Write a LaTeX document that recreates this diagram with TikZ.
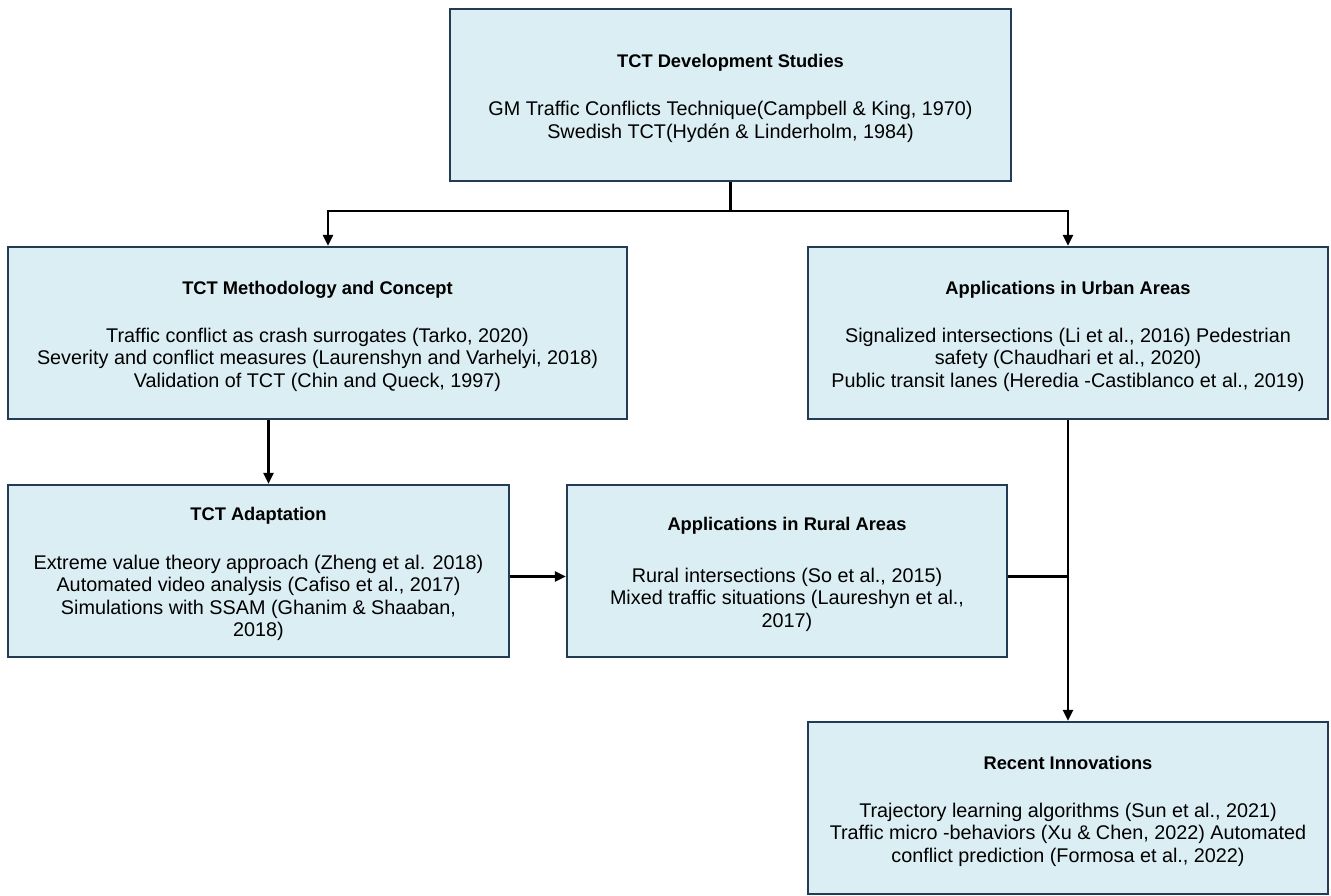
\documentclass[tikz,border=0pt]{standalone}
\usepackage{fontspec}
\setmainfont{Liberation Sans}
\usetikzlibrary{arrows.meta,calc}
\definecolor{boxfill}{HTML}{DBEEF4}
\definecolor{boxline}{HTML}{243B55}
\newcommand{\boxtitle}[1]{{\fontsize{18.3}{22}\selectfont\bfseries\rule{0pt}{20pt}#1}}
\begin{document}
\begin{tikzpicture}[x=1pt,y=-1pt,
  box/.style={draw=boxline, line width=2.2pt, fill=boxfill, align=center,
    font=\fontsize{19.8}{22.5}\selectfont, inner sep=0pt},
  conn/.style={draw=black, line width=2.6pt},
  arr/.style={conn, -{Triangle[length=11pt,width=10pt]}}]
\useasboundingbox (0,0) rectangle (1331,896);
\node[box, minimum width=561pt, minimum height=172pt] (top) at (730.5,95)
  {\boxtitle{TCT Development Studies}\\[26pt]
   GM Traffic Conflicts Technique(Campbell \& King, 1970)\\
   Swedish TCT(Hydén \& Linderholm, 1984)};
\node[box, minimum width=619pt, minimum height=172pt] (meth) at (317.5,333)
  {\boxtitle{TCT Methodology and Concept}\\[25pt]
   Traffic conflict as crash surrogates (Tarko, 2020)\\
   Severity and conflict measures (Laurenshyn and Varhelyi, 2018)\\
   Validation of TCT (Chin and Queck, 1997)};
\node[box, minimum width=520pt, minimum height=172pt] (urban) at (1068,333)
  {\boxtitle{Applications in Urban Areas}\\[25pt]
   Signalized intersections (Li et al., 2016) Pedestrian\\
   safety (Chaudhari et al., 2020)\\
   Public transit lanes (Heredia -Castiblanco et al., 2019)};
\node[box, minimum width=501pt, minimum height=172pt] (adapt) at (258.5,571)
  {\boxtitle{TCT Adaptation}\\[26pt]
   Extreme value theory approach (Zheng et al. 2018)\\
   Automated video analysis (Cafiso et al., 2017)\\
   Simulations with SSAM (Ghanim \& Shaaban,\\
   2018)};
\node[box, minimum width=440pt, minimum height=172pt] (rural) at (787,571)
  {\boxtitle{Applications in Rural Areas}\\[29pt]
   Rural intersections (So et al., 2015)\\
   Mixed traffic situations (Laureshyn et al.,\\
   2017)};
\node[box, minimum width=520pt, minimum height=172pt] (recent) at (1068,808)
  {\boxtitle{Recent Innovations}\\[25pt]
   Trajectory learning algorithms (Sun et al., 2021)\\
   Traffic micro -behaviors (Xu \& Chen, 2022) Automated\\
   conflict prediction (Formosa et al., 2022)};
\coordinate (j) at ([yshift=-29pt]top.south);
\draw[conn] (top.south) -- (j);
\draw[arr] (j) -| ([xshift=10.5pt]meth.north);
\draw[arr] (j) -| (urban.north);
\draw[arr] ([xshift=-49pt]meth.south) -- ([xshift=10pt]adapt.north);
\draw[arr] ([yshift=-5.5pt]adapt.east) -- ([yshift=-5.5pt]rural.west);
\coordinate (k) at ([yshift=-5.5pt]rural.east -| urban.south);
\draw[conn] ([yshift=-5.5pt]rural.east) -- (k);
\draw[arr] (urban.south) -- (recent.north);
\end{tikzpicture}
\end{document}
